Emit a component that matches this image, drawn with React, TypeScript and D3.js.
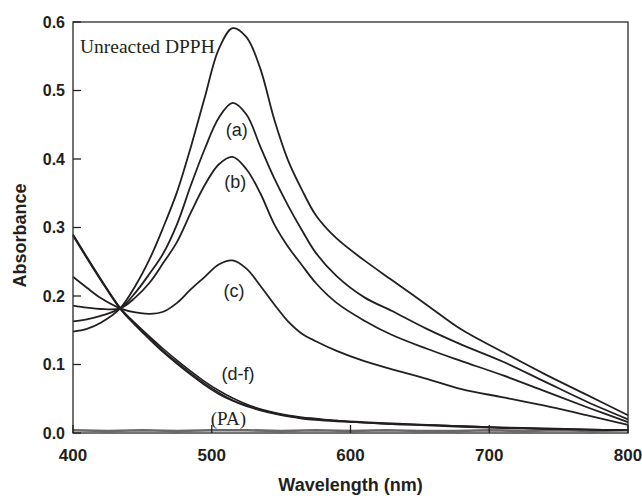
import React from "react";
import * as d3 from "d3";

const wavelengths = [400, 410, 420, 434, 445, 455, 465, 475, 485, 495, 505, 515, 525, 535, 545, 555, 565, 575, 590, 610, 630, 655, 680, 710, 740, 770, 800];

const dpph = [0.148, 0.152, 0.161, 0.182, 0.215, 0.253, 0.300, 0.352, 0.418, 0.490, 0.560, 0.591, 0.578, 0.532, 0.458, 0.398, 0.355, 0.318, 0.284, 0.252, 0.223, 0.187, 0.151, 0.118, 0.086, 0.056, 0.026];
const seriesA = [0.163, 0.166, 0.171, 0.182, 0.205, 0.232, 0.262, 0.305, 0.362, 0.415, 0.460, 0.482, 0.465, 0.418, 0.372, 0.332, 0.296, 0.263, 0.229, 0.198, 0.178, 0.152, 0.129, 0.104, 0.075, 0.046, 0.020];
const seriesB = [0.186, 0.183, 0.181, 0.182, 0.198, 0.219, 0.248, 0.279, 0.322, 0.362, 0.392, 0.403, 0.385, 0.350, 0.305, 0.272, 0.245, 0.219, 0.190, 0.164, 0.143, 0.123, 0.105, 0.084, 0.061, 0.038, 0.016];
const seriesC = [0.228, 0.212, 0.197, 0.182, 0.176, 0.174, 0.177, 0.190, 0.210, 0.228, 0.246, 0.252, 0.240, 0.215, 0.188, 0.163, 0.145, 0.134, 0.120, 0.105, 0.093, 0.079, 0.064, 0.052, 0.040, 0.026, 0.012];
const seriesD = [0.290, 0.257, 0.225, 0.183, 0.160, 0.141, 0.123, 0.106, 0.090, 0.075, 0.062, 0.051, 0.042, 0.035, 0.030, 0.026, 0.023, 0.021, 0.018, 0.016, 0.014, 0.012, 0.010, 0.008, 0.007, 0.005, 0.004];
const seriesE = [0.288, 0.255, 0.223, 0.181, 0.157, 0.137, 0.118, 0.101, 0.085, 0.070, 0.057, 0.047, 0.039, 0.033, 0.028, 0.024, 0.021, 0.019, 0.017, 0.015, 0.013, 0.011, 0.009, 0.007, 0.006, 0.005, 0.004];
const seriesF = [0.289, 0.256, 0.224, 0.182, 0.158, 0.139, 0.120, 0.103, 0.087, 0.072, 0.059, 0.048, 0.040, 0.034, 0.029, 0.025, 0.022, 0.020, 0.018, 0.015, 0.013, 0.012, 0.010, 0.008, 0.006, 0.005, 0.004];

const paWavelengths = [400, 425, 450, 475, 500, 525, 550, 575, 600, 625, 650, 675, 700, 725, 750, 775, 800];
const paValues = [0.004, 0.003, 0.004, 0.003, 0.004, 0.004, 0.003, 0.004, 0.003, 0.004, 0.003, 0.003, 0.004, 0.003, 0.004, 0.003, 0.004];

const xTicks = [400, 500, 600, 700, 800];
const yTicks = [0.0, 0.1, 0.2, 0.3, 0.4, 0.5, 0.6];

const labels = [
  { text: "Unreacted DPPH", nm: 405, v: 0.555, serif: true, anchor: "start", size: 19.5 },
  { text: "(a)", nm: 518, v: 0.434, serif: false, anchor: "middle", size: 18 },
  { text: "(b)", nm: 517, v: 0.357, serif: false, anchor: "middle", size: 18 },
  { text: "(c)", nm: 516, v: 0.198, serif: false, anchor: "middle", size: 18 },
  { text: "(d-f)", nm: 519, v: 0.077, serif: false, anchor: "middle", size: 18 },
  { text: "(PA)", nm: 512, v: 0.011, serif: true, anchor: "middle", size: 19 },
];

const W = 642;
const H = 496;
const M = { left: 73, right: 628, top: 22, bottom: 433 };
const INK = "#231f20";

export default function App() {
  const x = d3.scaleLinear().domain([400, 800]).range([M.left, M.right]);
  const y = d3.scaleLinear().domain([0, 0.6]).range([M.bottom, M.top]);

  const line = d3
    .line<[number, number]>()
    .x((d) => x(d[0]))
    .y((d) => y(d[1]))
    .curve(d3.curveCatmullRom.alpha(0.5));

  const mk = (vals: number[]) => line(wavelengths.map((w, i) => [w, vals[i]] as [number, number])) || "";
  const paPath =
    d3
      .line<[number, number]>()
      .x((d) => x(d[0]))
      .y((d) => y(d[1]))(paWavelengths.map((w, i) => [w, paValues[i]] as [number, number])) || "";

  const mainSeries = [dpph, seriesA, seriesB, seriesC];
  const dfSeries = [seriesD, seriesE, seriesF];

  return (
    <svg
      width={W}
      height={H}
      style={{ position: "absolute", left: 0, top: 0, background: "#fff" }}
    >
      <rect x={0} y={0} width={W} height={H} fill="#fff" />
      <path d={paPath} fill="none" stroke="#6b6869" strokeWidth={2.6} />
      {dfSeries.map((s, i) => (
        <path key={"df" + i} d={mk(s)} fill="none" stroke={INK} strokeWidth={1.6} />
      ))}
      {mainSeries.map((s, i) => (
        <path key={"m" + i} d={mk(s)} fill="none" stroke={INK} strokeWidth={1.8} />
      ))}
      <rect
        x={M.left}
        y={M.top}
        width={M.right - M.left}
        height={M.bottom - M.top}
        fill="none"
        stroke="#3a3637"
        strokeWidth={1.4}
      />
      {yTicks.map((t) => (
        <g key={"y" + t}>
          <line x1={M.left} x2={M.left + 8} y1={y(t)} y2={y(t)} stroke={INK} strokeWidth={1.3} />
          <text
            x={65}
            y={y(t)}
            dy="0.36em"
            textAnchor="end"
            fontFamily="Liberation Sans, Arial, sans-serif"
            fontWeight="bold"
            fontSize={16}
            fill={INK}
          >
            {d3.format(".1f")(t)}
          </text>
        </g>
      ))}
      {xTicks.map((t) => (
        <g key={"x" + t}>
          <line x1={x(t)} x2={x(t)} y1={M.bottom} y2={M.bottom - 8} stroke={INK} strokeWidth={1.3} />
          <text
            x={x(t)}
            y={461}
            textAnchor="middle"
            fontFamily="Liberation Sans, Arial, sans-serif"
            fontWeight="bold"
            fontSize={17}
            fill={INK}
          >
            {t}
          </text>
        </g>
      ))}
      <text
        x={(M.left + M.right) / 2}
        y={491}
        textAnchor="middle"
        fontFamily="Liberation Sans, Arial, sans-serif"
        fontWeight="bold"
        fontSize={18}
        fill={INK}
      >
        Wavelength (nm)
      </text>
      <text
        transform={`translate(26,${(M.top + M.bottom) / 2 + 8}) rotate(-90)`}
        textAnchor="middle"
        fontFamily="Liberation Sans, Arial, sans-serif"
        fontWeight="bold"
        fontSize={18}
        fill={INK}
      >
        Absorbance
      </text>
      {labels.map((l) => (
        <text
          key={l.text}
          x={x(l.nm)}
          y={y(l.v)}
          textAnchor={l.anchor as any}
          fontFamily={l.serif ? "Liberation Serif, Times New Roman, serif" : "Liberation Sans, Arial, sans-serif"}
          fontSize={l.size}
          fill={INK}
        >
          {l.text}
        </text>
      ))}
    </svg>
  );
}
